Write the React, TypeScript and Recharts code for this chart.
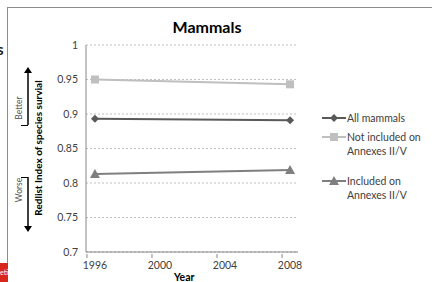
import { LineChart, Line, XAxis, YAxis, CartesianGrid } from 'recharts'

const years = [1996, 2008]
const allMammals = [0.893, 0.891]
const notIncluded = [0.95, 0.943]
const included = [0.813, 0.819]
const xTicks = [1996, 2000, 2004, 2008]
const yTicks = [0.7, 0.75, 0.8, 0.85, 0.9, 0.95, 1]

const data = years.map((year, i) => ({
  year,
  all: allMammals[i],
  notIncluded: notIncluded[i],
  included: included[i],
}))

const SERIES = [
  { key: 'all', label: ['All mammals'], color: '#595959', shape: 'diamond' },
  { key: 'notIncluded', label: ['Not included on', 'Annexes II/V'], color: '#BFBFBF', shape: 'square' },
  { key: 'included', label: ['Included on', 'Annexes II/V'], color: '#7F7F7F', shape: 'triangle' },
]

const FONT = 'Lato, "Open Sans", sans-serif'

function Marker({ cx, cy, color, shape }: any) {
  if (cx == null || cy == null) return null
  if (shape === 'square') return <rect x={cx - 4} y={cy - 4} width={8} height={8} fill={color} />
  if (shape === 'triangle') return <polygon points={`${cx},${cy - 5} ${cx + 5},${cy + 4} ${cx - 5},${cy + 4}`} fill={color} />
  return <polygon points={`${cx},${cy - 4} ${cx + 4},${cy} ${cx},${cy + 4} ${cx - 4},${cy}`} fill={color} />
}

function XTick({ x, y, payload }: any) {
  return (
    <g>
      <line x1={x - 8} x2={x - 8} y1={y - 6} y2={y - 2} stroke="#868686" />
      <text x={x} y={y + 9} textAnchor="middle" fontSize={10.5} fill="#404040" fontFamily={FONT}>
        {payload.value}
      </text>
    </g>
  )
}

function LegendBox() {
  const tops = [112, 131, 175]
  return (
    <div style={{ position: 'absolute', left: 322, top: 0, width: 110, height: 260 }}>
      {SERIES.map((s, i) => (
        <div key={s.key} style={{ position: 'absolute', left: 0, top: tops[i] }}>
          <svg width={24} height={12} style={{ position: 'absolute', left: 0, top: 0 }}>
            <line x1={0} x2={24} y1={6} y2={6} stroke={s.color} strokeWidth={2} />
            <Marker cx={12} cy={6} color={s.color} shape={s.shape} />
          </svg>
          <div style={{ position: 'absolute', left: 25, top: -1, fontSize: 10.5, lineHeight: '14px', color: '#404040', fontFamily: FONT, whiteSpace: 'nowrap' }}>
            {s.label.map((t) => (
              <div key={t}>{t}</div>
            ))}
          </div>
        </div>
      ))}
    </div>
  )
}

function Arrow({ top, height, up }: { top: number; height: number; up: boolean }) {
  return (
    <svg width={10} height={height} style={{ position: 'absolute', left: 23, top }}>
      <line x1={5} x2={5} y1={up ? 4 : 0} y2={up ? height : height - 4} stroke="#000" strokeWidth={1.5} />
      {up ? (
        <polygon points={`5,0 9,6 1,6`} fill="#000" />
      ) : (
        <polygon points={`5,${height} 9,${height - 6} 1,${height - 6}`} fill="#000" />
      )}
    </svg>
  )
}

export default function App() {
  return (
    <div style={{ position: 'absolute', left: 0, top: 0, width: 432, height: 282, background: '#fff', overflow: 'hidden', fontFamily: FONT }}>
      <div style={{ position: 'absolute', left: 7, top: 7, right: 0, bottom: 0, borderTop: '1.5px solid #8c8c8c', borderLeft: '1.5px solid #8c8c8c' }} />
      <div style={{ position: 'absolute', left: 0, top: 40, fontSize: 15, fontWeight: 700, color: '#222', width: 6, overflow: 'hidden', lineHeight: '18px' }}>
        <span style={{ marginLeft: -3 }}>s</span>
      </div>
      <div style={{ position: 'absolute', left: 0, top: 263, width: 8, height: 19, background: '#d9261c', color: '#fff', fontSize: 7, lineHeight: '19px', overflow: 'hidden' }}>eti</div>

      <LineChart width={432} height={282} data={data} margin={{ top: 45, right: 134, bottom: 0, left: 46 }} style={{ position: 'absolute', left: 0, top: 0 }}>
        <CartesianGrid vertical={false} stroke="#BFBFBF" strokeDasharray="2 2" />
        <XAxis
          dataKey="year"
          type="number"
          domain={[1995.45, 2008.49]}
          ticks={xTicks}
          interval={0}
          allowDataOverflow
          tickLine={false}
          tick={<XTick />}
          stroke="#868686"
          height={30}
        />
        <YAxis
          domain={[0.7, 1]}
          ticks={yTicks}
          interval={0}
          tickLine={false}
          stroke="#868686"
          width={40}
          tick={{ fontSize: 10.5, fill: '#404040', fontFamily: FONT }}
          tickFormatter={(v: number) => String(v)}
        />
        {SERIES.map((s) => (
          <Line
            key={s.key}
            dataKey={s.key}
            stroke={s.color}
            strokeWidth={2}
            isAnimationActive={false}
            dot={(p: any) => <Marker key={`${s.key}-${p.index}`} cx={p.cx} cy={p.cy} color={s.color} shape={s.shape} />}
            activeDot={false}
          />
        ))}
      </LineChart>
      <LegendBox />

      <div style={{ position: 'absolute', left: 0, width: 414, top: 17, textAlign: 'center', fontSize: 16, fontWeight: 700, color: '#000' }}>Mammals</div>
      <div style={{ position: 'absolute', left: 174, top: 271, fontSize: 10.5, fontWeight: 700, color: '#000' }}>Year</div>

      <div style={{ position: 'absolute', left: 38, top: 148, transform: 'translate(-50%, -50%) rotate(-90deg)', fontSize: 10, fontWeight: 700, whiteSpace: 'nowrap', color: '#000' }}>
        Redlist Index of species survial
      </div>
      <div style={{ position: 'absolute', left: 19, top: 108, transform: 'translate(-50%, -50%) rotate(-90deg)', fontSize: 8.5, whiteSpace: 'nowrap', color: '#555' }}>Better</div>
      <div style={{ position: 'absolute', left: 19, top: 190, transform: 'translate(-50%, -50%) rotate(-90deg)', fontSize: 8.5, whiteSpace: 'nowrap', color: '#555' }}>Worse</div>
      <div style={{ position: 'absolute', left: 21, top: 125, width: 7, borderTop: '1px solid #000' }} />
      <div style={{ position: 'absolute', left: 21, top: 177, width: 7, borderTop: '1px solid #000' }} />
      <Arrow top={67} height={58} up />
      <Arrow top={177} height={55} up={false} />
    </div>
  )
}
